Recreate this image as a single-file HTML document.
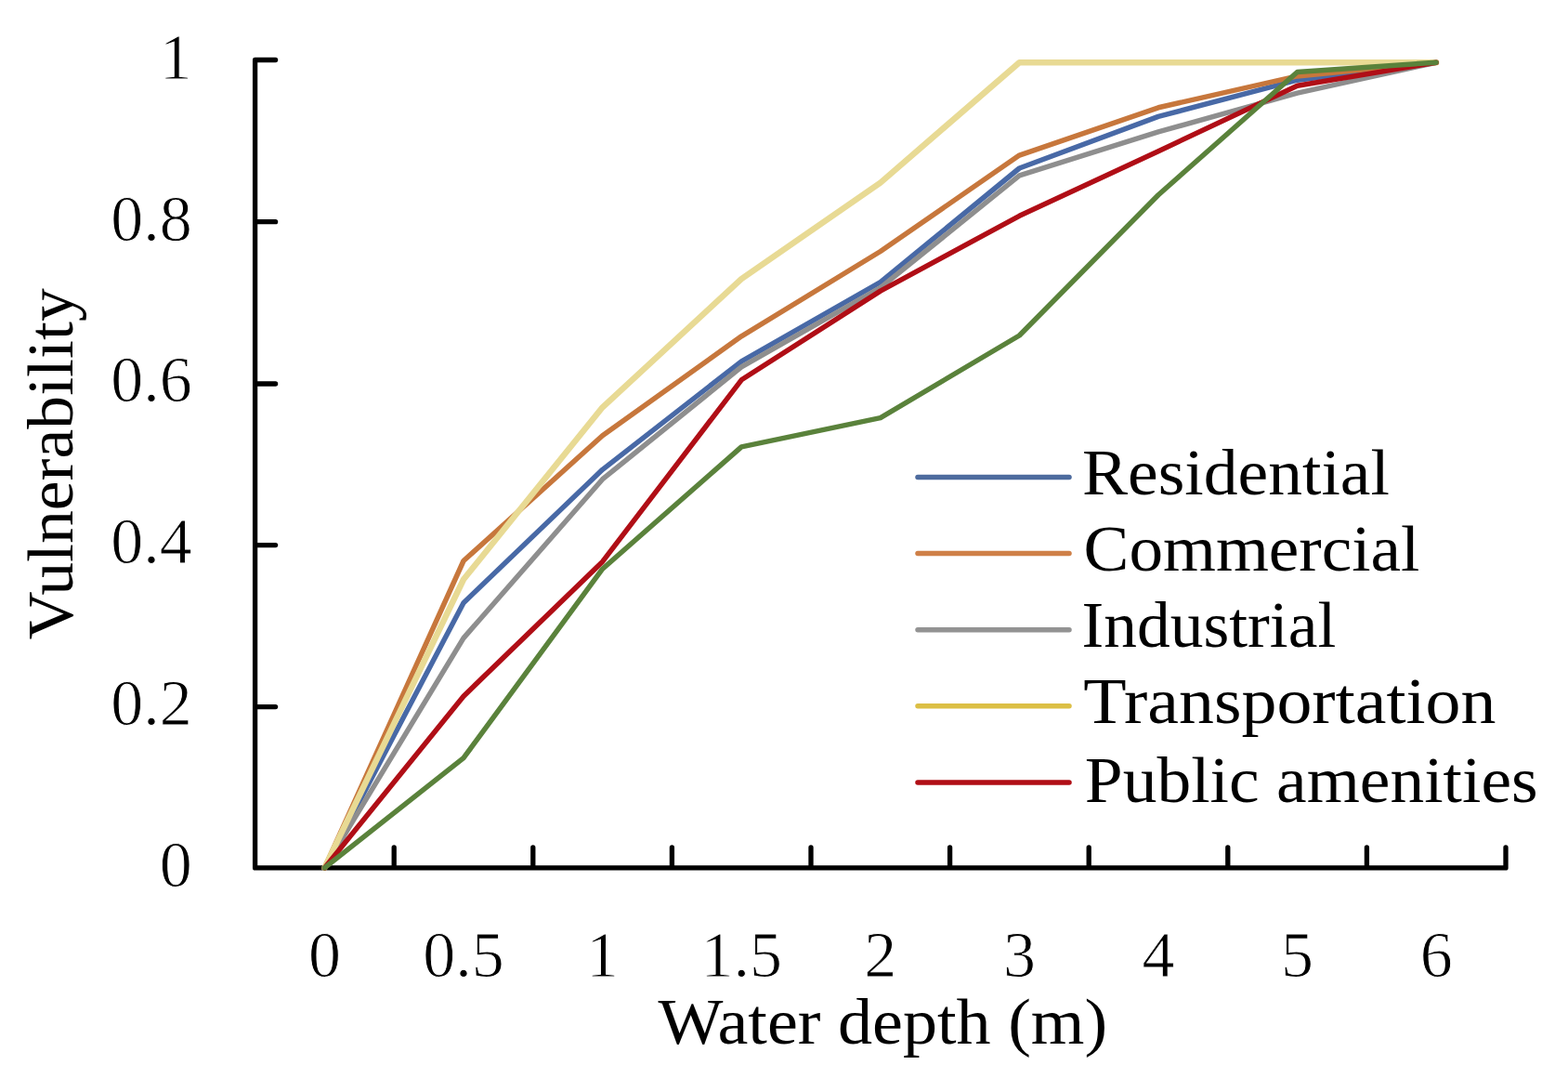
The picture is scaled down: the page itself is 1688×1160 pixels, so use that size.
<!DOCTYPE html>
<html><head><meta charset="utf-8"><title>Vulnerability curves</title>
<style>
html,body{margin:0;padding:0;background:#fff;}
body{width:1688px;height:1160px;overflow:hidden;}
svg{display:block;filter:blur(0.45px);}
text{font-family:"Liberation Serif", "DejaVu Serif", serif;font-size:70px;fill:#000;}
text.n{stroke:#fff;stroke-width:0.9px;}
</style></head>
<body>
<svg width="1688" height="1160" viewBox="0 0 1688 1160">
<rect x="0" y="0" width="1688" height="1160" fill="#ffffff"/>
<path d="M274.6,64.5 L274.6,933.9 L1621.0,933.9 M274.6,933.8 L296.6,933.8 M274.6,760.6 L296.6,760.6 M274.6,586.6 L296.6,586.6 M274.6,413.0 L296.6,413.0 M274.6,238.7 L296.6,238.7 M274.6,64.5 L296.6,64.5 M424.2,933.9 L424.2,911.9 M573.8,933.9 L573.8,911.9 M723.4,933.9 L723.4,911.9 M873.0,933.9 L873.0,911.9 M1022.6,933.9 L1022.6,911.9 M1172.2,933.9 L1172.2,911.9 M1321.8,933.9 L1321.8,911.9 M1471.4,933.9 L1471.4,911.9 M1621.0,933.9 L1621.0,911.9" fill="none" stroke="#000" stroke-width="5.3" stroke-linejoin="round" stroke-linecap="round"/>
<polyline points="349.4,933.9 499.0,648.7 648.6,505.3 798.2,388.8 947.8,303.6 1097.4,181.0 1247.0,125.4 1396.6,86.2 1546.2,67.2" fill="none" stroke="#4869a6" stroke-width="5.5" stroke-linejoin="round" stroke-linecap="round"/>
<polyline points="349.4,933.9 499.0,603.5 648.6,468.8 798.2,361.8 947.8,270.5 1097.4,167.1 1247.0,115.8 1396.6,81.9 1546.2,67.2" fill="none" stroke="#c7773c" stroke-width="5.5" stroke-linejoin="round" stroke-linecap="round"/>
<polyline points="349.4,933.9 499.0,686.6 648.6,515.7 798.2,394.9 947.8,309.7 1097.4,188.8 1247.0,141.9 1396.6,100.1 1546.2,67.2" fill="none" stroke="#8e8e8e" stroke-width="5.5" stroke-linejoin="round" stroke-linecap="round"/>
<polyline points="349.4,933.9 499.0,623.5 648.6,438.3 798.2,300.1 947.8,196.6 1097.4,67.2 1247.0,67.2 1396.6,67.2 1546.2,67.2" fill="none" stroke="#e8da94" stroke-width="6.5" stroke-linejoin="round" stroke-linecap="round"/>
<polyline points="349.4,933.9 499.0,749.2 648.6,604.4 798.2,408.8 947.8,313.1 1097.4,232.3 1247.0,162.7 1396.6,92.3 1546.2,67.2" fill="none" stroke="#b00e16" stroke-width="5.5" stroke-linejoin="round" stroke-linecap="round"/>
<polyline points="349.4,933.9 499.0,815.7 648.6,612.2 798.2,480.9 947.8,449.6 1097.4,361.0 1247.0,209.7 1396.6,77.5 1546.2,67.2" fill="none" stroke="#5a823b" stroke-width="5.5" stroke-linejoin="round" stroke-linecap="round"/>
<text class="n" x="206.7" y="954.2" text-anchor="end">0</text>
<text class="n" x="206.7" y="779.8" text-anchor="end">0.2</text>
<text class="n" x="206.7" y="605.5" text-anchor="end">0.4</text>
<text class="n" x="206.7" y="432.0" text-anchor="end">0.6</text>
<text class="n" x="206.7" y="259.0" text-anchor="end">0.8</text>
<text class="n" x="206.7" y="85.4" text-anchor="end">1</text>
<text class="n" x="349.4" y="1050.5" text-anchor="middle">0</text>
<text class="n" x="499.0" y="1050.5" text-anchor="middle">0.5</text>
<text class="n" x="648.6" y="1050.5" text-anchor="middle">1</text>
<text class="n" x="798.2" y="1050.5" text-anchor="middle">1.5</text>
<text class="n" x="947.8" y="1050.5" text-anchor="middle">2</text>
<text class="n" x="1097.4" y="1050.5" text-anchor="middle">3</text>
<text class="n" x="1247.0" y="1050.5" text-anchor="middle">4</text>
<text class="n" x="1396.6" y="1050.5" text-anchor="middle">5</text>
<text class="n" x="1546.2" y="1050.5" text-anchor="middle">6</text>
<text x="950.3" y="1123" text-anchor="middle" textLength="483.6" lengthAdjust="spacingAndGlyphs">Water depth (m)</text>
<text transform="translate(77.5,499.3) rotate(-90)" x="0" y="0" text-anchor="middle" textLength="378.1" lengthAdjust="spacingAndGlyphs">Vulnerability</text>
<line x1="988" y1="513.5" x2="1151" y2="513.5" stroke="#4d6b9e" stroke-width="5.5" stroke-linecap="round"/>
<text x="1165.0" y="532.0" textLength="330.9" lengthAdjust="spacingAndGlyphs">Residential</text>
<line x1="988" y1="595.6" x2="1151" y2="595.6" stroke="#cf8048" stroke-width="5.5" stroke-linecap="round"/>
<text x="1166.6" y="613.5" textLength="361.8" lengthAdjust="spacingAndGlyphs">Commercial</text>
<line x1="988" y1="677.7" x2="1151" y2="677.7" stroke="#939393" stroke-width="5.5" stroke-linecap="round"/>
<text x="1164.4" y="695.6" textLength="273.9" lengthAdjust="spacingAndGlyphs">Industrial</text>
<line x1="988" y1="759.8" x2="1151" y2="759.8" stroke="#dcbf45" stroke-width="5.5" stroke-linecap="round"/>
<text x="1166.3" y="778.0" textLength="444.2" lengthAdjust="spacingAndGlyphs">Transportation</text>
<line x1="988" y1="841.9" x2="1151" y2="841.9" stroke="#b00e16" stroke-width="5.5" stroke-linecap="round"/>
<text x="1167.8" y="862.8" textLength="487.9" lengthAdjust="spacingAndGlyphs">Public amenities</text>
</svg>
</body></html>
